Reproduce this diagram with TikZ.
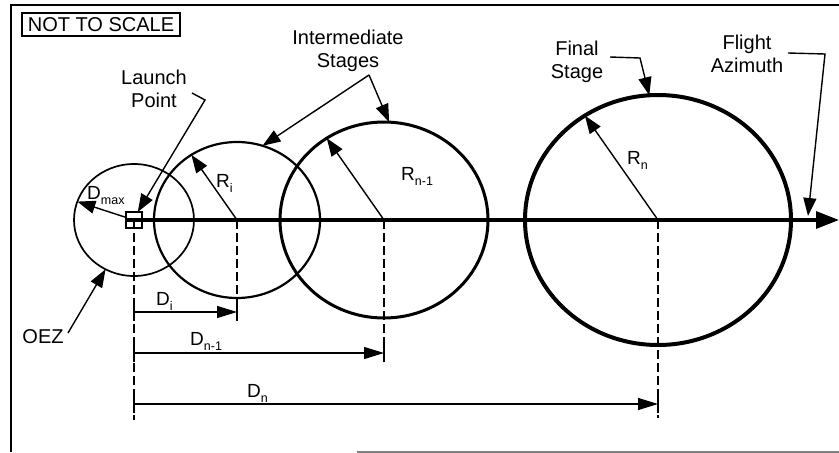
\documentclass[tikz,border=0pt]{standalone}
\usepackage{fontspec}
\setmainfont{Liberation Sans}
\usetikzlibrary{arrows.meta,shapes.geometric}
\newcommand\subtxt[1]{\raisebox{-5pt}{\fontsize{12.5}{12.5}\selectfont #1}}
\begin{document}
\begin{tikzpicture}[x=1pt,y=-1pt,
 lbl/.style={font=\fontsize{20}{23.5}\selectfont, align=center, inner sep=0},
 zone/.style={ellipse, draw, inner sep=0, outer sep=0},
 ptr/.style={line width=1.4pt, -{Triangle[length=18pt,width=13pt]}},
 dim/.style={line width=1.3pt, -{Triangle[length=20pt,width=12pt]}},
 guide/.style={line width=1.3pt, dash pattern=on 9pt off 4pt},
 sym/.style={font=\fontsize{19}{19}\selectfont, inner sep=0, anchor=base west},
]
\useasboundingbox (0,0) rectangle (839,453);
% frame
\draw[line width=2.6pt] (11,452) -- (11,5) -- (845,5);
\draw[line width=1.5pt, gray] (357,452) -- (845,452);
\node[draw, line width=1.6pt, minimum width=158, minimum height=23, inner sep=0, font=\fontsize{20}{20}\selectfont] (nts) at (101,24.5) {NOT TO SCALE};
% zones
\node[zone, line width=1.7pt, minimum width=120, minimum height=112] (oez) at (134,220) {};
\node[zone, line width=2.2pt, minimum width=166, minimum height=156] (ci) at (237,220) {};
\node[zone, line width=3pt, minimum width=208, minimum height=196] (cn1) at (384,220) {};
\node[zone, line width=4pt, minimum width=266, minimum height=250] (cn) at (658,220) {};
% axis
\coordinate (axs) at (126,220);
\coordinate (axe) at (839,220);
\draw[line width=3.3pt, -{Triangle[length=23pt,width=17pt]}] (axs) -- (axe);
\node[draw, line width=1.4pt, minimum size=16, inner sep=0, outer sep=0] (lp) at (134,220) {};
% guides
\coordinate (g0) at (134,420);
\coordinate (g1) at (237,323);
\coordinate (g2) at (384,361);
\coordinate (g3) at (658,418);
\draw[guide] (lp.center) -- (g0);
\draw[guide] (ci.center) -- (g1);
\draw[guide] (cn1.center) -- (g2);
\draw[guide] (cn.center) -- (g3);
% dimension lines
\coordinate (d1s) at (134,312); \coordinate (d1e) at (237,312);
\coordinate (d2s) at (134,353); \coordinate (d2e) at (384,353);
\coordinate (d3s) at (134,404); \coordinate (d3e) at (658,404);
\draw[dim] (d1s) -- (d1e);
\draw[dim] (d2s) -- (d2e);
\draw[dim] (d3s) -- (d3e);
\foreach \p in {d1s,d1e,d2s,d2e,d3s,d3e}
  \draw[line width=1.3pt] ([yshift=-9pt]\p) -- ([yshift=9pt]\p);
% radii
\draw[ptr] (ci.center) -- (ci.125);
\draw[ptr] (cn1.center) -- (cn1.125);
\draw[ptr] (cn.center) -- (cn.125);
\draw[ptr] (lp.162) -- (oez.162);
% labels
\node[sym] (ldmax) at (87,199) {D\subtxt{max}};
\node[sym] (lri) at (216,187) {R\subtxt{i}};
\node[sym] (lrn1) at (401,180) {R\subtxt{n-1}};
\node[sym] (lrn) at (627,164) {R\subtxt{n}};
\node[sym] (ldi) at (156,305) {D\subtxt{i}};
\node[sym] (ldn1) at (190,345) {D\subtxt{n-1}};
\node[sym] (ldn) at (247,397) {D\subtxt{n}};
% callouts
\node[lbl] (lpl) at (154,89) {Launch\\Point};
\coordinate (k1) at (192,93); \coordinate (k2) at (205,100);
\draw[ptr] (k1) -- (k2) -- (lp.65);
\node[lbl] (isl) at (348,51) {Intermediate\\Stages};
\coordinate (ik) at (369,75);
\draw[ptr] (ik) -- (ci.71);
\draw[ptr] (ik) -- (cn1.87);
\node[lbl] (fsl) at (577,62) {Final\\Stage};
\coordinate (f1) at (610,57); \coordinate (f2) at (640,58);
\draw[ptr] (f1) -- (f2) -- (cn.94);
\node[lbl] (fal) at (747,54) {Flight\\Azimuth};
\coordinate (a1) at (788,53); \coordinate (a2) at (825,54); \coordinate (a3) at (808,216);
\draw[ptr] (a1) -- (a2) -- (a3);
\node[lbl] (oezl) at (43,337) {OEZ};
\coordinate (o1) at (68,333);
\draw[ptr] (o1) -- (oez.-120);
\end{tikzpicture}
\end{document}
